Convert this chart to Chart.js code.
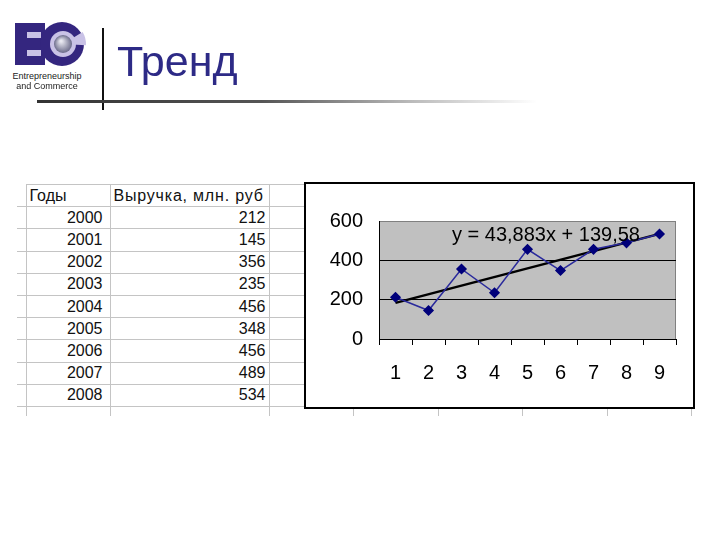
<!DOCTYPE html>
<html>
<head>
<meta charset="utf-8">
<script src="https://cdn.jsdelivr.net/npm/chart.js@4/dist/chart.umd.min.js"></script>
<style>
  body { margin: 0; width: 720px; height: 540px; background: #fff; position: relative; overflow: hidden; font-family: Arial, "Liberation Sans", sans-serif; }
  #logo { position: absolute; left: 0; top: 0; }
  .logo-text { position: absolute; left: 2px; width: 90px; text-align: center; font-size: 9px; color: #222; line-height: 10px; }
  #vline { position: absolute; left: 102px; top: 28px; width: 2px; height: 82px; background: #111; }
  #hline { position: absolute; left: 37px; top: 100px; width: 500px; height: 3px; background: linear-gradient(to right, #333 0%, #555 45%, #bbb 75%, #fff 100%); }
  #title { position: absolute; left: 117px; top: 35px; font-size: 43px; color: #2d2a86; line-height: 52px; }
  #sheet { position: absolute; left: 17px; top: 184px; border-collapse: collapse; table-layout: fixed; font-size: 16px; color: #111; }
  #sheet td { border: 1px solid #c4c4c4; height: 21.2px; padding: 0 3px; white-space: nowrap; overflow: hidden; }
  #sheet td.stub { border-left: none; border-top: none; }
  #sheet td.num { text-align: right; }
  #sheet td.year { padding-right: 7px; }
  #sheet td.wide { letter-spacing: 0.8px; }
  #sheet tr.last td { height: 9px; border-bottom: none; }
  #box { position: absolute; left: 304px; top: 182px; width: 387px; height: 223px; border: 2px solid #000; background: #fff; }
</style>
</head>
<body>
<canvas id="logo" width="100" height="70"></canvas>
<div class="logo-text" style="top:71px">Entrepreneurship</div>
<div class="logo-text" style="top:81px">and Commerce</div>
<div id="vline"></div>
<div id="hline"></div>
<div id="title">Тренд</div>
<table id="sheet"></table>
<div id="box"><canvas id="chart" width="387" height="223"></canvas></div>
<script>
const years = ['2000', '2001', '2002', '2003', '2004', '2005', '2006', '2007', '2008'];
const revenue = [212, 145, 356, 235, 456, 348, 456, 489, 534];
const xLabels = ['1', '2', '3', '4', '5', '6', '7', '8', '9'];
const trendLabels = ['1', '9'];
const trendValues = [183.5, 534.5];
const headers = ['Годы', 'Выручка, млн. руб'];
const equation = 'y = 43,883x + 139,58';

// spreadsheet behind the chart
const sheet = document.getElementById('sheet');
const colWidths = [9, 84, 159, 84.5, 84.5, 84.5, 84.5, 84.5];
const cg = document.createElement('colgroup');
colWidths.forEach(w => {
    const c = document.createElement('col');
    c.style.width = w + 'px';
    cg.appendChild(c);
});
sheet.appendChild(cg);

function addRow(cells, cls) {
    const tr = document.createElement('tr');
    if (cls) tr.className = cls;
    for (let i = 0; i < colWidths.length; i++) {
        const td = document.createElement('td');
        if (i === 0) td.className = 'stub';
        if (cells[i] !== undefined) {
            td.textContent = cells[i].text;
            if (cells[i].cls) td.className = cells[i].cls;
        }
        tr.appendChild(td);
    }
    sheet.appendChild(tr);
}
addRow({1: {text: headers[0]}, 2: {text: headers[1], cls: 'wide'}});
years.forEach((y, i) => {
    addRow({1: {text: y, cls: 'num year'}, 2: {text: String(revenue[i]), cls: 'num'}});
});
addRow({}, 'last');

// logo
const lg = document.getElementById('logo').getContext('2d');
lg.fillStyle = '#34267f';
lg.fillRect(15, 23, 30, 42);
lg.fillStyle = '#c9c2e6';
lg.fillRect(27, 32, 14, 6);
lg.fillRect(27, 50, 14, 6);
lg.fillStyle = '#34267f';
lg.beginPath(); lg.arc(62, 44, 22, 0, Math.PI * 2); lg.fill();
lg.fillStyle = '#c9c2e6';
lg.beginPath(); lg.moveTo(63, 44); lg.arc(63, 44, 23, -0.55, 0.05); lg.closePath(); lg.fill();
lg.beginPath(); lg.arc(63, 44, 13, 0, Math.PI * 2); lg.fill();
const sph = lg.createRadialGradient(61, 41, 1, 63, 44, 9);
sph.addColorStop(0, '#e8e8f0');
sph.addColorStop(1, '#6b6b8a');
lg.fillStyle = sph;
lg.beginPath(); lg.arc(63, 44, 9, 0, Math.PI * 2); lg.fill();

const plotBg = {
    id: 'plotBg',
    beforeDraw(chart) {
        const a = chart.chartArea, ctx = chart.ctx;
        ctx.save();
        ctx.fillStyle = '#c0c0c0';
        ctx.fillRect(a.left, a.top, a.right - a.left, a.bottom - a.top);
        ctx.strokeStyle = '#808080';
        ctx.lineWidth = 1;
        ctx.strokeRect(a.left + 0.5, a.top + 0.5, a.right - a.left - 1, a.bottom - a.top);
        ctx.restore();
    },
    afterDatasetsDraw(chart) {
        const a = chart.chartArea, ctx = chart.ctx;
        ctx.save();
        ctx.font = '20px Arial, "Liberation Sans"';
        ctx.fillStyle = '#000';
        ctx.textBaseline = 'middle';
        ctx.fillText(equation, a.left + 73, chart.scales.y.getPixelForValue(526));
        ctx.restore();
    }
};

new Chart(document.getElementById('chart'), {
    type: 'line',
    data: {
        labels: xLabels,
        datasets: [{
            data: revenue,
            borderColor: '#2a2a9c',
            borderWidth: 1.5,
            pointStyle: 'rectRot',
            pointRadius: 4.5,
            pointBackgroundColor: '#00007a',
            pointBorderColor: '#00007a',
            tension: 0,
            order: 0
        }, {
            data: trendLabels.map((l, i) => ({x: l, y: trendValues[i]})),
            borderColor: '#000',
            borderWidth: 2.5,
            pointRadius: 0,
            tension: 0,
            order: 1
        }]
    },
    options: {
        responsive: false,
        animation: false,
        events: [],
        layout: {padding: {top: 37, right: 17, left: 0, bottom: 0}},
        plugins: {legend: {display: false}, tooltip: {enabled: false}},
        scales: {
            x: {
                offset: true,
                afterFit(s) { s.height = 68; },
                grid: {drawOnChartArea: false, drawTicks: true, tickLength: 6, color: '#000', offset: true},
                border: {display: true, color: '#000', width: 1},
                ticks: {color: '#000', padding: 16, font: {family: 'Arial, "Liberation Sans"', size: 20}, maxRotation: 0}
            },
            y: {
                min: 0,
                max: 600,
                afterFit(s) { s.width = 73; },
                ticks: {stepSize: 200, color: '#000', padding: 16, font: {family: 'Arial, "Liberation Sans"', size: 20}},
                grid: {
                    drawTicks: false,
                    color: c => c.tick && c.tick.value === 600 ? '#808080' : '#000'
                },
                border: {display: true, color: '#000', width: 1}
            }
        }
    },
    plugins: [plotBg]
});
</script>
</body>
</html>
